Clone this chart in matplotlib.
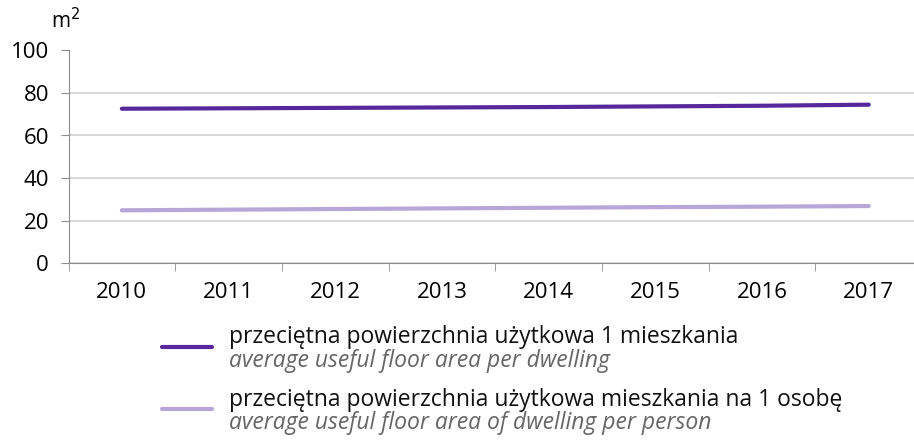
import matplotlib
matplotlib.use("Agg")
import matplotlib.pyplot as plt
from matplotlib.lines import Line2D

years = ["2010", "2011", "2012", "2013", "2014", "2015", "2016", "2017"]
per_dwelling = [72.6, 72.8, 73.0, 73.2, 73.4, 73.7, 74.0, 74.5]
per_person = [24.8, 25.1, 25.4, 25.7, 26.0, 26.3, 26.5, 26.8]
labels_pl = ["przeciętna powierzchnia użytkowa 1 mieszkania",
             "przeciętna powierzchnia użytkowa mieszkania na 1 osobę"]
labels_en = ["average useful floor area per dwelling",
             "average useful floor area of dwelling per person"]
colors = ["#56289b", "#b9a6d8"]

plt.rcParams['font.family'] = ['Open Sans', 'DejaVu Sans']

W, H = 914, 445
fig = plt.figure(figsize=(W / 100, H / 100), dpi=100)
# axes slightly wider than the figure, as in the original crop
ax = fig.add_axes([68.5 / W, 1 - 263 / H, 853.6 / W, 212.5 / H])

x = list(range(len(years)))
ax.plot(x, per_dwelling, color=colors[0], lw=3, solid_capstyle='round')
ax.plot(x, per_person, color=colors[1], lw=3, solid_capstyle='round')

ax.set_xlim(-0.5, len(years) - 0.5)
ax.set_ylim(0, 100)
ax.set_yticks(range(0, 101, 20))
ax.set_xticks(x)
ax.set_xticklabels(years)
ax.set_xticks([i - 0.5 for i in range(len(years) + 1)], minor=True)
ax.tick_params(axis='x', which='major', length=0, pad=14, labelsize=16)
ax.tick_params(axis='x', which='minor', length=6, color='#8c8c8c', direction='out')
ax.tick_params(axis='y', length=6, color='#8c8c8c', labelsize=16, pad=8)
ax.grid(axis='y', color='#d0d0d0', lw=1.2)
ax.set_axisbelow(True)
for s in ['top', 'right']:
    ax.spines[s].set_visible(False)
ax.spines['left'].set_color('#8c8c8c')
ax.spines['bottom'].set_color('#8c8c8c')

fig.text(51 / W, 1 - 21 / H, "m$^2$", fontsize=15, va='center', ha='left')

# legend drawn by hand below the chart
rows = [(347, 337, 361), (409, 400, 423)]
for i, (ly, ty1, ty2) in enumerate(rows):
    fig.add_artist(Line2D([162 / W, 212 / W], [1 - ly / H, 1 - ly / H],
                          color=colors[i], lw=3, solid_capstyle='round'))
    fig.text(229 / W, 1 - ty1 / H, labels_pl[i], fontsize=16.5,
             va='center', ha='left', color='#111111')
    fig.text(229 / W, 1 - ty2 / H, labels_en[i], fontsize=16.5,
             va='center', ha='left', color='#666666', style='italic')

fig.savefig("out.png", dpi=100)
